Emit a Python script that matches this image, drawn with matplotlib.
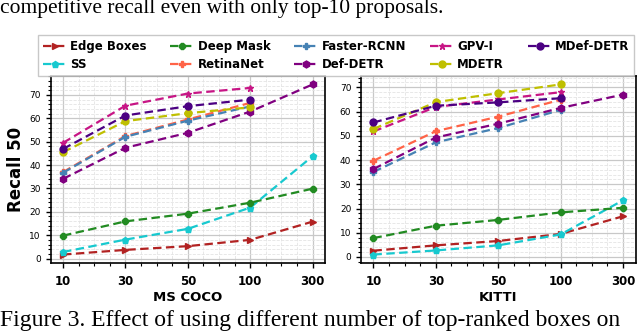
import numpy as np
import matplotlib
matplotlib.use("Agg")
import matplotlib.pyplot as plt
from matplotlib.ticker import AutoMinorLocator

# top-k proposals
x_labels = ["10", "30", "50", "100", "300"]

methods = ["Edge Boxes", "SS", "Deep Mask", "RetinaNet", "Faster-RCNN",
           "Def-DETR", "GPV-I", "MDETR", "MDef-DETR"]
colors = ["#b22222", "#17c9cf", "#228b22", "#ff6347", "#4682b4",
          "#800080", "#c71585", "#bfbf00", "#4b0082"]
markers = [">", "p", "8", "P", "P", "h", "*", "o", "o"]

# Recall@50 on MS COCO (None = not evaluated)
coco = {
    "Edge Boxes":  [1.7, 3.7, 5.3, 8.0, 15.8],
    "SS":          [2.8, 8.1, 12.7, 21.8, 43.8],
    "Deep Mask":   [9.8, 15.9, 19.2, 23.9, 29.9],
    "RetinaNet":   [37.0, 52.4, 59.5, 66.6, None],
    "Faster-RCNN": [36.7, 52.1, 59.0, 65.1, None],
    "Def-DETR":    [34.1, 47.4, 53.8, 62.9, 74.5],
    "GPV-I":       [49.5, 65.4, 70.6, 73.0, None],
    "MDETR":       [45.5, 58.8, 62.2, 64.7, None],
    "MDef-DETR":   [46.9, 61.2, 65.2, 68.0, None],
}

# Recall@50 on KITTI
kitti = {
    "Edge Boxes":  [2.6, 4.8, 6.6, 9.5, 16.8],
    "SS":          [1.0, 2.7, 4.8, 9.3, 23.4],
    "Deep Mask":   [7.8, 12.9, 15.3, 18.4, 20.3],
    "RetinaNet":   [39.7, 51.9, 57.9, 64.9, None],
    "Faster-RCNN": [35.1, 47.3, 53.2, 60.7, None],
    "Def-DETR":    [36.3, 49.3, 55.0, 61.5, 67.0],
    "GPV-I":       [51.8, 61.9, 65.0, 68.0, None],
    "MDETR":       [52.8, 63.9, 67.6, 71.2, None],
    "MDef-DETR":   [55.5, 62.4, 63.8, 65.5, None],
}

plt.rcParams["font.family"] = "DejaVu Sans"

fig = plt.figure(figsize=(6.4, 3.33), dpi=100)
ax1 = fig.add_axes([0.079, 0.210, 0.429, 0.562])
ax2 = fig.add_axes([0.564, 0.210, 0.429, 0.562])

pos = np.arange(len(x_labels))
handles = []
for ax, data, xlabel in [(ax1, coco, "MS COCO"), (ax2, kitti, "KITTI")]:
    for name, c, m in zip(methods, colors, markers):
        vals = [v for v in data[name] if v is not None]
        ln, = ax.plot(pos[:len(vals)], vals, ls=(0, (3.8, 2)), lw=1.6,
                      color=c, marker=m, ms=5, label=name)
        if ax is ax1:
            handles.append(ln)
    ax.set_xticks(pos)
    ax.set_xticklabels(x_labels, fontsize=8.5, fontweight="bold")
    ax.xaxis.set_minor_locator(AutoMinorLocator(4))
    ax.yaxis.set_minor_locator(AutoMinorLocator(5))
    ax.tick_params(axis="y", labelsize=6.5)
    ax.tick_params(axis="x", pad=5)
    ax.tick_params(which="major", length=3.5, width=1)
    ax.tick_params(which="minor", length=2, width=0.8)
    ax.grid(which="major", color="#c8c8c8", lw=0.9)
    ax.grid(which="minor", color="#e4e4e4", lw=0.6, ls="--")
    ax.set_axisbelow(True)
    for s in ax.spines.values():
        s.set_linewidth(1.2)
    ax.set_xlabel(xlabel, fontsize=9.5, fontweight="bold", labelpad=2)

ax1.set_ylabel("Recall 50", fontsize=12, fontweight="bold", labelpad=3)

fig.legend(handles=handles, ncol=5, loc="lower left",
           bbox_to_anchor=(38 / 640, 1 - 76 / 333, 596 / 640, 42 / 333),
           mode="expand", borderaxespad=0, prop={"size": 8.5, "weight": "bold"},
           handlelength=2.0, handletextpad=0.3, borderpad=0.4,
           labelspacing=0.45, columnspacing=0.8, frameon=True,
           fancybox=False, edgecolor="#bbbbbb")

fig.text(0.0, 1 - 13 / 333, "competitive recall even with only top-10 proposals.",
         fontsize=15.5, family="Liberation Serif", va="baseline", ha="left")
fig.text(0.0, 1 - 326 / 333,
         "Figure 3. Effect of using different number of top-ranked boxes on",
         fontsize=17, family="Liberation Serif", va="baseline", ha="left")

fig.savefig("out.png", dpi=100)
